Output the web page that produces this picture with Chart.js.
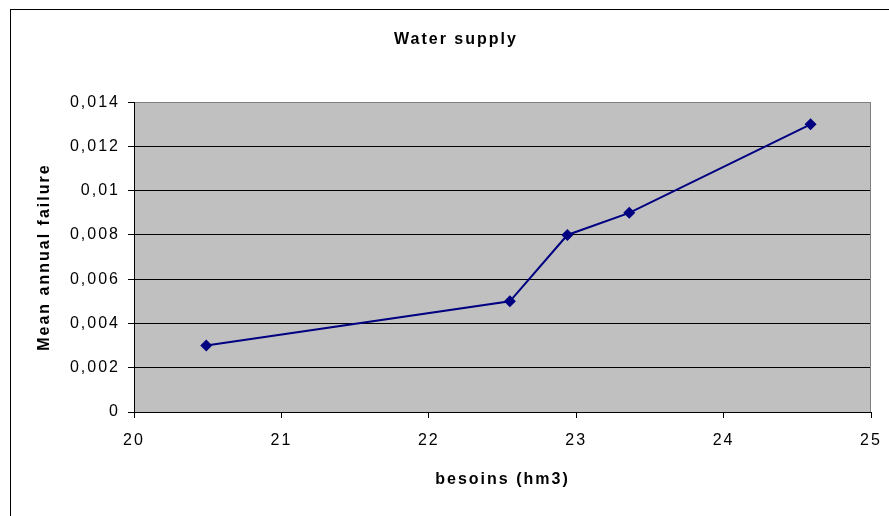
<!DOCTYPE html>
<html lang="en">
<head>
    <meta charset="UTF-8">
    <title>Water supply</title>
    <script src="https://cdn.jsdelivr.net/npm/chart.js"></script>
    <style>
        body { margin: 0; background: #fff; }
        canvas { display: block; }
    </style>
</head>
<body>
    <canvas id="chart" width="889" height="516"></canvas>

    <script>
        // Data
        const demand = [20.49, 22.55, 22.94, 23.36, 24.59];      // besoins (hm3)
        const failure = [0.003, 0.005, 0.008, 0.009, 0.013];    // mean annual failure
        const xTicks = [20, 21, 22, 23, 24, 25];
        const xTickLabels = ['20', '21', '22', '23', '24', '25'];
        const yTicks = [0, 0.002, 0.004, 0.006, 0.008, 0.01, 0.012, 0.014];
        const yTickLabels = ['0', '0,002', '0,004', '0,006', '0,008', '0,01', '0,012', '0,014'];

        const FONT = "Arial, 'Liberation Sans', sans-serif";
        const SPACING = '2px';

        // Excel-like frame, grey plot background and letter spacing
        const excelLook = {
            id: 'excelLook',
            beforeLayout(chart) {
                chart.ctx.letterSpacing = SPACING;
            },
            beforeDraw(chart) {
                const ctx = chart.ctx;
                const a = chart.chartArea;
                ctx.letterSpacing = SPACING;
                ctx.save();
                ctx.strokeStyle = '#000';
                ctx.lineWidth = 1;
                ctx.strokeRect(10.5, 9.5, 1000, 1000);
                ctx.fillStyle = '#c0c0c0';
                ctx.fillRect(a.left, a.top, a.right - a.left, a.bottom - a.top);
                ctx.restore();
            },
            beforeDatasetsDraw(chart) {
                const ctx = chart.ctx;
                const a = chart.chartArea;
                ctx.save();
                ctx.strokeStyle = '#808080';
                ctx.lineWidth = 1;
                ctx.beginPath();
                ctx.moveTo(Math.round(a.right) - 0.5, a.top);
                ctx.lineTo(Math.round(a.right) - 0.5, a.bottom);
                ctx.stroke();
                ctx.restore();
            }
        };

        const chart = new Chart(document.getElementById('chart').getContext('2d'), {
            type: 'line',
            data: {
                datasets: [{
                    label: 'Water supply',
                    data: demand.map((x, i) => ({ x: x, y: failure[i] })),
                    borderColor: '#000080',
                    backgroundColor: '#000080',
                    borderWidth: 2,
                    pointStyle: 'rectRot',
                    pointRadius: 6,
                    pointBorderWidth: 0,
                    tension: 0,
                    fill: false
                }]
            },
            options: {
                responsive: false,
                animation: false,
                layout: { padding: { left: 41, right: 18, top: 0, bottom: 0 } },
                plugins: {
                    legend: { display: false },
                    tooltip: { enabled: false },
                    title: {
                        display: true,
                        text: 'Water supply',
                        color: '#000',
                        font: { family: FONT, size: 16, weight: 'bold' },
                        padding: { top: 30, bottom: 53 }
                    }
                },
                scales: {
                    x: {
                        type: 'linear',
                        min: 20,
                        max: 25,
                        afterBuildTicks: s => { s.ticks = xTicks.map(v => ({ value: v })); },
                        afterFit: s => { s.height = 104; s.paddingLeft = 0; s.paddingRight = 0; },
                        ticks: {
                            color: '#000',
                            font: { family: FONT, size: 16 },
                            padding: 13,
                            maxRotation: 0,
                            callback: (v, i) => xTickLabels[i]
                        },
                        grid: {
                            drawOnChartArea: false,
                            drawTicks: true,
                            tickLength: 6,
                            tickColor: '#000'
                        },
                        border: { color: '#000', width: 1 },
                        title: {
                            display: true,
                            text: 'besoins (hm3)',
                            color: '#000',
                            font: { family: FONT, size: 16, weight: 'bold' },
                            padding: { top: 0, bottom: 27 }
                        }
                    },
                    y: {
                        min: 0,
                        max: 0.014,
                        afterBuildTicks: s => { s.ticks = yTicks.map(v => ({ value: v })); },
                        afterFit: s => { s.width = 93; s.paddingTop = 0; s.paddingBottom = 0; },
                        ticks: {
                            color: '#000',
                            font: { family: FONT, size: 16 },
                            padding: 8,
                            callback: (v, i) => yTickLabels[i]
                        },
                        grid: {
                            color: c => (c.tick && c.tick.value === 0.014) ? '#808080' : '#000',
                            lineWidth: 1,
                            drawTicks: true,
                            tickLength: 6,
                            tickColor: '#000'
                        },
                        border: { color: '#000', width: 1 },
                        title: {
                            display: true,
                            text: 'Mean annual failure',
                            color: '#000',
                            font: { family: FONT, size: 16, weight: 'bold' },
                            padding: { top: -6, bottom: 0 }
                        }
                    }
                }
            },
            plugins: [excelLook]
        });
    </script>
</body>
</html>
